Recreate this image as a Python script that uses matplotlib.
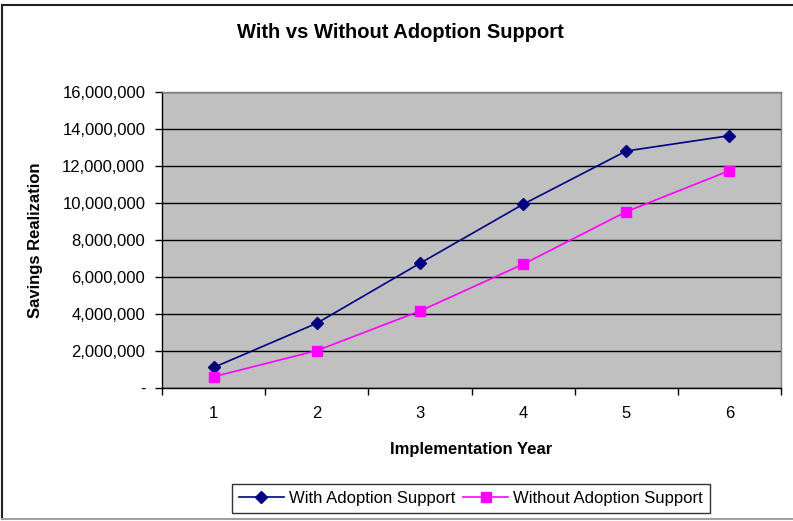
import matplotlib
matplotlib.use("Agg")
import matplotlib.pyplot as plt
from matplotlib.lines import Line2D
from matplotlib.ticker import FuncFormatter, FixedLocator

plt.rcParams['font.family'] = ['Liberation Sans', 'DejaVu Sans']

years = [1, 2, 3, 4, 5, 6]
with_support = [1110000, 3500000, 6740000, 9930000, 12810000, 13640000]
without_support = [610000, 2020000, 4160000, 6690000, 9530000, 11750000]
y_ticks = [0, 2000000, 4000000, 6000000, 8000000, 10000000, 12000000, 14000000, 16000000]

fig = plt.figure(figsize=(7.93, 5.21), dpi=100)
ax = fig.add_axes([162 / 793, 1 - 388 / 521, (781 - 162) / 793, (388 - 92) / 521])
ax.set_facecolor('#C0C0C0')

ax.plot(years, with_support, color='#000080', lw=1.2, marker='D', ms=6,
        mfc='#000080', mec='#000080', label='With Adoption Support', zorder=3)
ax.plot(years, without_support, color='#FF00FF', lw=1.2, marker='s', ms=6.5,
        mfc='#FF00FF', mec='#FF00FF', label='Without Adoption Support', zorder=3)

ax.set_xlim(0.5, 6.5)
ax.set_ylim(0, 16000000)
ax.set_yticks(y_ticks)
ax.yaxis.set_major_formatter(FuncFormatter(lambda v, p: '-' if v == 0 else f'{int(v):,}'))
ax.yaxis.grid(True, color='black', lw=1)
ax.set_axisbelow(True)

ax.set_xticks(years)
ax.set_xticklabels([str(y) for y in years])
ax.tick_params(axis='x', which='major', length=0, pad=13, labelsize=12)
ax.xaxis.set_minor_locator(FixedLocator([y + 0.5 for y in [0] + years]))
ax.tick_params(axis='x', which='minor', length=5, width=1, color='black', direction='out')
ax.tick_params(axis='y', length=5, width=1, direction='out', labelsize=12, pad=7)

for s in ['left', 'bottom']:
    ax.spines[s].set_color('black')
    ax.spines[s].set_linewidth(1)
for s in ['top', 'right']:
    ax.spines[s].set_color('#808080')
    ax.spines[s].set_linewidth(1)

ax.set_xlabel('Implementation Year', fontsize=12, fontweight='bold', labelpad=15)
ax.set_ylabel('Savings Realization', fontsize=12, fontweight='bold', labelpad=14)
fig.text(400 / 793, 1 - 33 / 521, 'With vs Without Adoption Support',
         fontsize=14.5, fontweight='bold', ha='center', va='center')

leg = fig.legend(loc='center', bbox_to_anchor=(471 / 793, 1 - 498.5 / 521), ncol=2,
                 fontsize=12, frameon=True, fancybox=False, edgecolor='black',
                 handlelength=2.7, handletextpad=0.3, columnspacing=0.5,
                 borderpad=0.4)
leg.get_frame().set_linewidth(1)

# chart frame
fig.add_artist(Line2D([2 / 793, 1], [1 - 5 / 521, 1 - 5 / 521], color='#202020', lw=1.5))
fig.add_artist(Line2D([2 / 793, 2 / 793], [1 - 5 / 521, 1 - 519 / 521], color='#202020', lw=1.5))
fig.add_artist(Line2D([2 / 793, 1], [1 - 519 / 521, 1 - 519 / 521], color='#A0A0A0', lw=1.5))

fig.savefig('out.png', dpi=100)
